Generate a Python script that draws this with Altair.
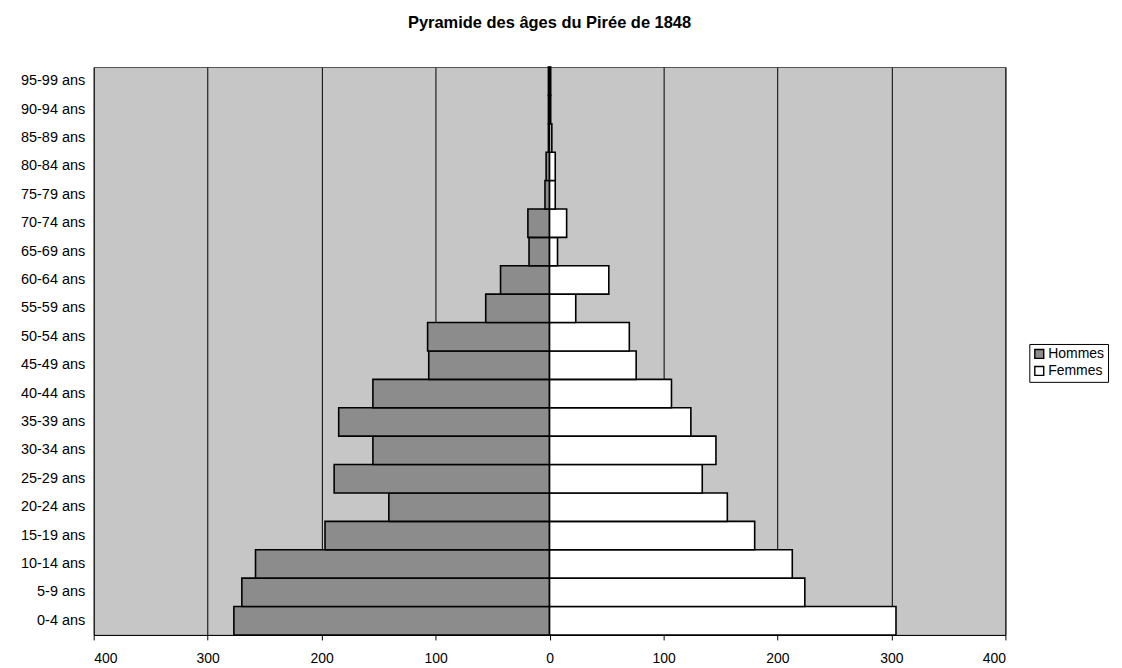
import altair as alt
import pandas as pd

ages = ["0-4 ans", "5-9 ans", "10-14 ans", "15-19 ans", "20-24 ans", "25-29 ans",
        "30-34 ans", "35-39 ans", "40-44 ans", "45-49 ans", "50-54 ans", "55-59 ans",
        "60-64 ans", "65-69 ans", "70-74 ans", "75-79 ans", "80-84 ans", "85-89 ans",
        "90-94 ans", "95-99 ans"]
hommes = [277, 270, 258, 197, 141, 189, 155, 185, 155, 106, 107, 56, 43, 18, 19, 4, 3, 1, 1, 1]
femmes = [304, 224, 213, 180, 156, 134, 146, 124, 107, 76, 70, 23, 52, 7, 15, 5, 5, 2, 1, 1]
sexes = ["Hommes", "Femmes"]
x_ticks = [-400, -300, -200, -100, 0, 100, 200, 300, 400]

rows = []
for a, h, f in zip(ages, hommes, femmes):
    rows.append({"age": a, "sexe": "Hommes", "valeur": -h})
    rows.append({"age": a, "sexe": "Femmes", "valeur": f})
df = pd.DataFrame(rows)

font = "Liberation Sans"

chart = alt.Chart(df).mark_bar(stroke="black", strokeWidth=1.6).encode(
    x=alt.X("valeur:Q",
            scale=alt.Scale(domain=[-400, 400], nice=False),
            axis=alt.Axis(values=x_ticks, labelExpr="abs(datum.value)", title=None,
                          grid=True, gridColor="black", gridWidth=1, gridOpacity=1,
                          domainColor="black", tickColor="black", tickSize=5,
                          labelPadding=12, labelFontSize=14, labelColor="black",
                          labelFont=font)),
    y=alt.Y("age:N", sort=list(reversed(ages)),
            scale=alt.Scale(paddingInner=0, paddingOuter=0),
            axis=alt.Axis(title=None, ticks=False, domain=False, labelFontSize=14.5,
                          labelColor="black", labelFont=font, labelPadding=9,
                          minExtent=81, maxExtent=81)),
    color=alt.Color("sexe:N",
                    scale=alt.Scale(domain=sexes, range=["#8c8c8c", "#ffffff"]),
                    legend=alt.Legend(title=None, orient="none", legendX=939, legendY=278,
                                      symbolType="square", symbolStrokeColor="black",
                                      symbolStrokeWidth=1.4, symbolSize=80,
                                      labelFontSize=14, labelFont=font, labelColor="black",
                                      strokeColor="black", padding=3, rowPadding=1,
                                      fillColor="white", labelOffset=2)),
).properties(
    width=915,
    height=570,
    title=alt.TitleParams("Pyramide des âges du Pirée de 1848", fontSize=16.5,
                          font=font, fontWeight="bold", color="black",
                          anchor="middle", frame="group", offset=35),
).configure(
    background="white"
).configure_view(
    fill="#c6c6c6", stroke="#555555", strokeWidth=1
)

chart.save("out.html", embed_options={"renderer": "svg", "actions": False})
